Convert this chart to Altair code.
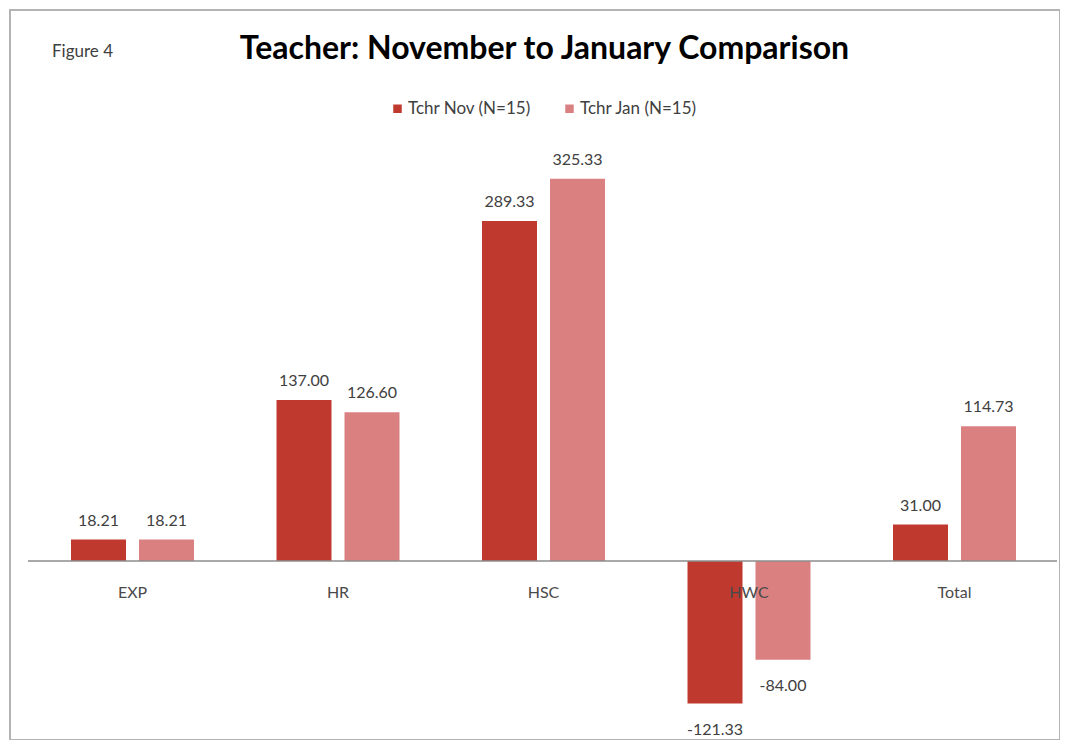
import altair as alt
import pandas as pd

categories = ["EXP", "HR", "HSC", "HWC", "Total"]
series_names = ["Tchr Nov (N=15)", "Tchr Jan (N=15)"]
nov_values = [18.21, 137.00, 289.33, -121.33, 31.00]
jan_values = [18.21, 126.60, 325.33, -84.00, 114.73]
series_colors = ["#C0392F", "#DB8080"]
title_text = "Teacher: November to January Comparison"
figure_label = "Figure 4"

rows = []
for name, vals in zip(series_names, [nov_values, jan_values]):
    for c, v in zip(categories, vals):
        rows.append({"cat": c, "series": name, "value": v})
df = pd.DataFrame(rows)
cat_df = pd.DataFrame({"cat": categories, "value": [0] * len(categories)})

W, H = 1050, 730
FONT = "Lato"
BAR_W = 55
SHIFT = 34
LABEL_EXPR = "(datum.value < 0 ? '-' : '') + format(abs(datum.value), '.2f')"

x_enc = alt.X("cat:N", sort=categories, axis=None,
              scale=alt.Scale(paddingInner=0.4015, paddingOuter=0.2555, align=0.581))
y_enc = alt.Y("value:Q", axis=None,
              scale=alt.Scale(domain=[-152.34, 468.94], nice=False, zero=False))
color_enc = alt.Color("series:N", sort=series_names,
                      scale=alt.Scale(domain=series_names, range=series_colors),
                      legend=alt.Legend(title=None, orient="none", legendX=379, legendY=90,
                                        direction="horizontal", symbolType="square",
                                        symbolSize=72, symbolStrokeWidth=0,
                                        labelFont=FONT, labelFontSize=17, labelColor="#404040",
                                        columnPadding=30, labelOffset=2, padding=0))

layers = []
for i, name in enumerate(series_names):
    off = -SHIFT if i == 0 else SHIFT
    sub = df[df["series"] == name].reset_index(drop=True)
    layers.append(alt.Chart(sub).mark_bar(width=BAR_W, xOffset=off).encode(
        x=x_enc, y=y_enc, color=color_enc))

zero_line = alt.Chart(pd.DataFrame({"value": [0]})).mark_rule(
    color="#8C8C8C", strokeWidth=1.5
).encode(y=y_enc, x=alt.value(18), x2=alt.value(1047))
layers.append(zero_line)

cat_labels = alt.Chart(cat_df).mark_text(
    dy=32, baseline="middle", font=FONT, fontSize=16, color="#4A4A4A"
).encode(x=x_enc, y=y_enc, text="cat:N")
layers.append(cat_labels)

for i, name in enumerate(series_names):
    off = -SHIFT if i == 0 else SHIFT
    sub = df[df["series"] == name].reset_index(drop=True)
    layers.append(alt.Chart(sub).transform_filter("datum.value >= 0").transform_calculate(
        label=LABEL_EXPR
    ).mark_text(
        baseline="alphabetic", dy=-14, xOffset=off, font=FONT, fontSize=16, color="#404040"
    ).encode(x=x_enc, y=y_enc, text="label:N"))
    layers.append(alt.Chart(sub).transform_filter("datum.value < 0").transform_calculate(
        label=LABEL_EXPR
    ).mark_text(
        baseline="alphabetic", dy=31, xOffset=off, font=FONT, fontSize=16, color="#404040"
    ).encode(x=x_enc, y=y_enc, text="label:N"))

title_mark = alt.Chart(pd.DataFrame({"t": [title_text]})).mark_text(
    font=FONT, fontSize=32, fontWeight="bold", color="#000000",
    align="center", baseline="alphabetic"
).encode(text="t:N", x=alt.value(534.5), y=alt.value(49))

fig_mark = alt.Chart(pd.DataFrame({"t": [figure_label]})).mark_text(
    font=FONT, fontSize=17, color="#404040", align="left", baseline="alphabetic"
).encode(text="t:N", x=alt.value(42), y=alt.value(47))
layers += [title_mark, fig_mark]

chart = alt.layer(*layers).properties(
    width=W, height=H,
    autosize=alt.AutoSizeParams(type="none"),
    padding={"left": 2, "top": 2, "right": 0, "bottom": 0},
    background="#FFFFFF",
).configure_view(
    stroke="#B4B4B4", strokeWidth=2
)

chart.save("out.html", embed_options={"renderer": "svg", "actions": False})
